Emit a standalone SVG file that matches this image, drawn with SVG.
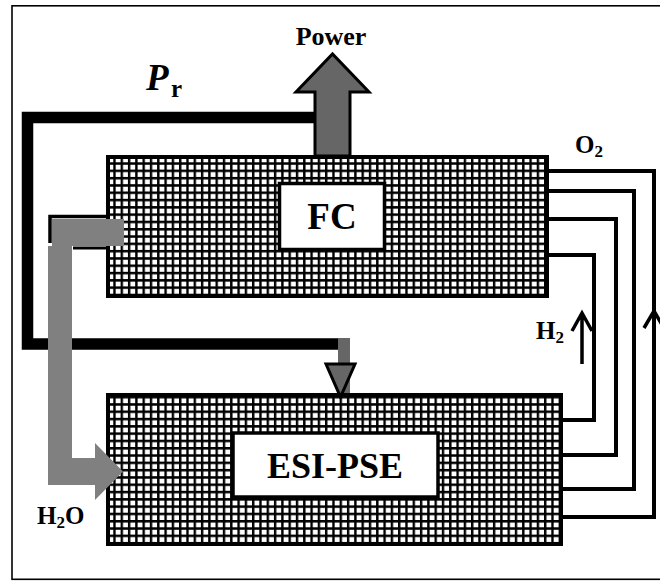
<svg xmlns="http://www.w3.org/2000/svg" width="660" height="581" viewBox="0 0 660 581">
<defs>
<pattern id="grid" x="106" y="155" width="7.3" height="7.3" patternUnits="userSpaceOnUse">
<rect width="7.3" height="7.3" fill="#fff"/>
<path d="M1.2,0 V7.3 M0,1.2 H7.3" stroke="#000" stroke-width="2.4" fill="none"/>
</pattern>
<style>
.blk{fill:url(#grid);stroke:#000;stroke-width:4}
.box{fill:#fff;stroke:#000;stroke-width:3.5}
.t{font-family:"Liberation Serif","Times New Roman",serif;font-weight:bold;fill:#000}
.pipe{fill:none;stroke:#000;stroke-width:4;stroke-linejoin:miter}
.thin{fill:none;stroke:#000;stroke-width:3.5}
</style>
</defs>
<rect x="0" y="0" width="660" height="581" fill="#fff"/>
<rect x="12" y="5.8" width="660" height="573.5" fill="none" stroke="#000" stroke-width="1.6"/>

<g id="fc">
<rect class="blk" x="108" y="157" width="439" height="139"/>
<rect class="box" x="279.5" y="183.5" width="105" height="66"/>
<text class="t" x="332" y="229" font-size="37" text-anchor="middle">FC</text>
</g>

<g id="esi-pse">
<rect class="blk" x="108" y="395" width="453" height="149"/>
<rect class="box" x="233" y="433" width="205" height="64"/>
<text class="t" x="335" y="478" font-size="36" text-anchor="middle">ESI-PSE</text>
</g>

<g id="connectors">
<!-- Pr feedback line -->
<path d="M316,117.5 H27.5 V344 H338" fill="none" stroke="#000" stroke-width="11.5" stroke-linejoin="miter"/>
<rect x="338" y="338" width="12" height="55" fill="#666"/>
<polygon points="326,364 355,364 340.5,397" fill="#666" stroke="#000" stroke-width="3"/>
<!-- power arrow -->
<polygon points="315,156 315,92 296,92 332.5,54 369,92 350,92 350,156" fill="#666" stroke="#000" stroke-width="3"/>
<!-- H2O pipe -->
<path d="M50,243 V216.5 H106" fill="none" stroke="#000" stroke-width="3.5"/>
<path d="M73,248 H106" fill="none" stroke="#000" stroke-width="3"/>
<polygon points="52,219 124,219 124,246 72,246 72,458 95,458 95,443 123,471.5 95,500 95,485 48,485 48,246 52,246" fill="#808080"/>
<!-- right side pipes -->
<path class="pipe" d="M549,171 H654 V517 H563" stroke-width="3.5"/>
<path class="pipe" d="M549,191 H634 V489 H563"/>
<path class="pipe" d="M549,219 H616 V455 H563"/>
<path class="pipe" d="M549,255 H594 V420 H563"/>
<!-- flow arrows -->
<path class="thin" d="M582,364 V314 M572,331 L582,313 L592,331"/>
<path class="thin" d="M644,328 L654,311 L664,328"/>
</g>

<g id="labels">
<text class="t" x="331" y="45" font-size="26" text-anchor="middle">Power</text>
<text class="t" x="146" y="90" font-size="37" font-style="italic">P</text>
<text class="t" x="171" y="97" font-size="25">r</text>
<text class="t" x="575" y="153" font-size="25">O<tspan font-size="17" dy="4">2</tspan></text>
<text class="t" x="536" y="339" font-size="25">H<tspan font-size="17" dy="4">2</tspan></text>
<text class="t" x="37" y="524" font-size="25">H<tspan font-size="17" dy="4">2</tspan><tspan dy="-4">O</tspan></text>
</g>
</svg>
